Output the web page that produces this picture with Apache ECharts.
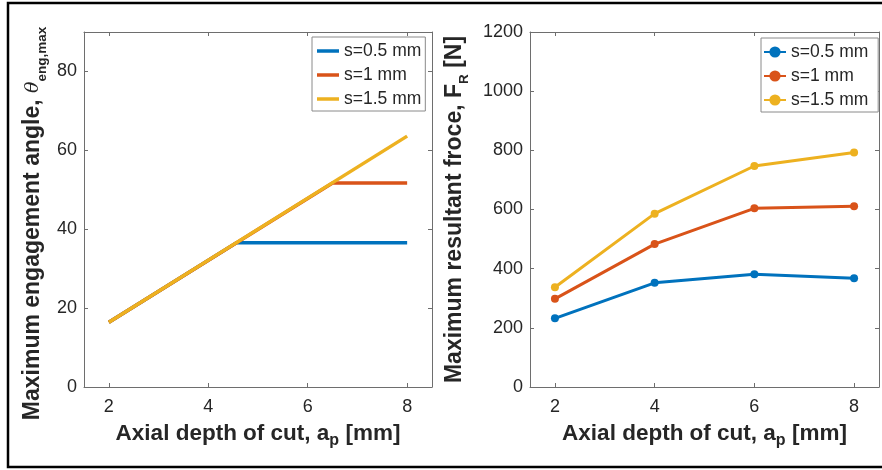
<!DOCTYPE html>
<html>
<head>
<meta charset="utf-8">
<script src="https://cdn.jsdelivr.net/npm/echarts@6/dist/echarts.min.js"></script>
<style>html,body{margin:0;padding:0;background:#fff;}#c{width:882px;height:470px;}</style>
</head>
<body>
<div id="c"></div>
<script>
// ---- data ----
var seriesNames = ['s=0.5 mm', 's=1 mm', 's=1.5 mm'];
var xTicks = [2, 4, 6, 8];
var yTicksLeft = [0, 20, 40, 60, 80];
// left panel: max engagement angle (deg) vs axial depth (mm)
var angle05 = [[2, 16.4], [4.57, 36.6], [8, 36.6]];
var angle10 = [[2, 16.4], [6.5, 51.7], [8, 51.7]];
var angle15 = [[2, 16.4], [8, 63.6]];
// right panel: max resultant force (N)
var depth = [2, 4, 6, 8];
var force05 = [232, 352, 381, 368];
var force10 = [298, 483, 604, 611];
var force15 = [337, 586, 747, 793];

var colors = ['#0072BD', '#D95319', '#EDB120'];
var font = 'Liberation Sans, Arial, Helvetica, sans-serif';
var axisGray = '#6e6e6e';
var textCol = '#262626';

function pairs(xs, ys) { return xs.map(function (x, i) { return [x, ys[i]]; }); }

var xNameStyle = {
  fontFamily: font, fontWeight: 'bold', fontSize: 22.5, color: textCol,
  rich: {
    m: { fontFamily: font, fontWeight: 'bold', fontSize: 22.5, color: textCol, verticalAlign: 'top' },
    sub: { fontFamily: font, fontWeight: 'bold', fontSize: 16, color: textCol, verticalAlign: 'top', padding: [11, 0, 0, 0] }
  }
};
function yNameStyle(shift) {
  return {
    fontFamily: font, fontWeight: 'bold', fontSize: 23, color: textCol,
    rich: {
      m: { fontFamily: font, fontWeight: 'bold', fontSize: 23, color: textCol, verticalAlign: 'top' },
      th: { fontFamily: 'DejaVu Serif, serif', fontStyle: 'italic', fontWeight: 'normal', fontSize: 19, color: textCol, verticalAlign: 'top', padding: [3, 0, 0, 0] },
      sub: { fontFamily: font, fontWeight: 'bold', fontSize: 13.5, color: textCol, verticalAlign: 'top', padding: [14, 0, 0, 0] },
      subEnd: { fontFamily: font, fontWeight: 'bold', fontSize: 13.5, color: textCol, verticalAlign: 'top', padding: [14, shift, 0, 0] }
    }
  };
}

function xAxisPair(grid, name) {
  return [
    {
      type: 'value', gridIndex: grid, position: 'bottom', min: 1.5, max: 8.5,
      name: name, nameLocation: 'middle', nameGap: 35, nameTextStyle: xNameStyle,
      axisLine: { show: true, onZero: false, lineStyle: { color: axisGray, width: 1 } },
      axisTick: { show: true, inside: true, length: 4, customValues: xTicks, lineStyle: { color: axisGray } },
      axisLabel: { show: true, customValues: xTicks, margin: 11, fontSize: 18, fontFamily: font, color: textCol },
      splitLine: { show: false }
    },
    {
      type: 'value', gridIndex: grid, position: 'top', min: 1.5, max: 8.5,
      axisLine: { show: true, onZero: false, lineStyle: { color: axisGray, width: 1 } },
      axisTick: { show: true, inside: true, length: 4, customValues: xTicks, lineStyle: { color: axisGray } },
      axisLabel: { show: false },
      splitLine: { show: false }
    }
  ];
}

function yAxisPair(grid, min, max, ticks, interval, name, gap, nameStyle) {
  var tickCfg = { show: true, inside: true, length: 4, lineStyle: { color: axisGray } };
  var labCfg = { show: true, margin: 7, fontSize: 18, fontFamily: font, color: textCol,
    formatter: function (v) { return String(v); } };
  if (ticks) { tickCfg.customValues = ticks; labCfg.customValues = ticks; }
  var tickCfg2 = Object.assign({}, tickCfg);
  var a = {
    type: 'value', gridIndex: grid, position: 'left', min: min, max: max,
    name: name, nameLocation: 'middle', nameGap: gap, nameTextStyle: nameStyle,
    axisLine: { show: true, onZero: false, lineStyle: { color: axisGray, width: 1 } },
    axisTick: tickCfg, axisLabel: labCfg, splitLine: { show: false }
  };
  var b = {
    type: 'value', gridIndex: grid, position: 'right', min: min, max: max,
    axisLine: { show: true, onZero: false, lineStyle: { color: axisGray, width: 1 } },
    axisTick: tickCfg2, axisLabel: { show: false }, splitLine: { show: false }
  };
  if (interval) { a.interval = interval; b.interval = interval; }
  return [a, b];
}

var xAxes = xAxisPair(0, '{m|Axial depth of cut, a}{sub|p}{m| [mm]}')
  .concat(xAxisPair(1, '{m|Axial depth of cut, a}{sub|p}{m| [mm]}'));
var yAxes = yAxisPair(0, 0, 90, yTicksLeft, null, '{m|Maximum engagement angle, }{th|θ}{subEnd|eng,max}', 35, yNameStyle(28))
  .concat(yAxisPair(1, 0, 1200, null, 200, '{m|Maximum resultant froce, F}{sub|R}{m| [N]}', 59, yNameStyle(0)));

var leftData = [angle05, angle10, angle15];
var rightData = [force05, force10, force15];
var series = [];
seriesNames.forEach(function (n, i) {
  series.push({
    name: n, type: 'line', xAxisIndex: 0, yAxisIndex: 0, data: leftData[i],
    symbol: 'none', lineStyle: { width: 3.5, color: colors[i] }, itemStyle: { color: colors[i] },
    animation: false, z: 2 + i
  });
});
seriesNames.forEach(function (n, i) {
  series.push({
    name: n + ' ', type: 'line', xAxisIndex: 2, yAxisIndex: 2, data: pairs(depth, rightData[i]),
    symbol: 'circle', symbolSize: 8, lineStyle: { width: 3, color: colors[i] },
    itemStyle: { color: colors[i] }, animation: false, z: 2 + i
  });
});

var legendBase = {
  orient: 'vertical', itemWidth: 22, itemHeight: 14, itemGap: 6,
  backgroundColor: '#fff', borderColor: '#8a8a8a', borderWidth: 1,
  textStyle: { fontSize: 17.5, fontFamily: font, color: textCol, lineHeight: 18 },
  selectedMode: false
};

var option = {
  backgroundColor: '#fff',
  animation: false,
  grid: [
    { left: 84, top: 32, width: 348, height: 355, containLabel: false },
    { left: 530, top: 32, width: 349, height: 355, containLabel: false }
  ],
  xAxis: xAxes,
  yAxis: yAxes,
  legend: [
    Object.assign({}, legendBase, { left: 312, top: 37, padding: [5, 4, 3, 5],
      icon: 'path://M0,0 L22,0 L22,3.5 L0,3.5 Z', data: seriesNames }),
    Object.assign({}, legendBase, { left: 761, top: 38, padding: [5, 5, 3, 2],
      data: seriesNames.map(function (n) { return n + ' '; }) })
  ],
  graphic: [
    { type: 'rect', shape: { x: 8, y: 3, width: 900, height: 464 }, style: { fill: 'none', stroke: '#000', lineWidth: 2.5 }, z: 100, silent: true }
  ],
  series: series
};

var chart = echarts.init(document.getElementById('c'), null, { renderer: 'canvas' });
chart.setOption(option);
</script>
</body>
</html>
